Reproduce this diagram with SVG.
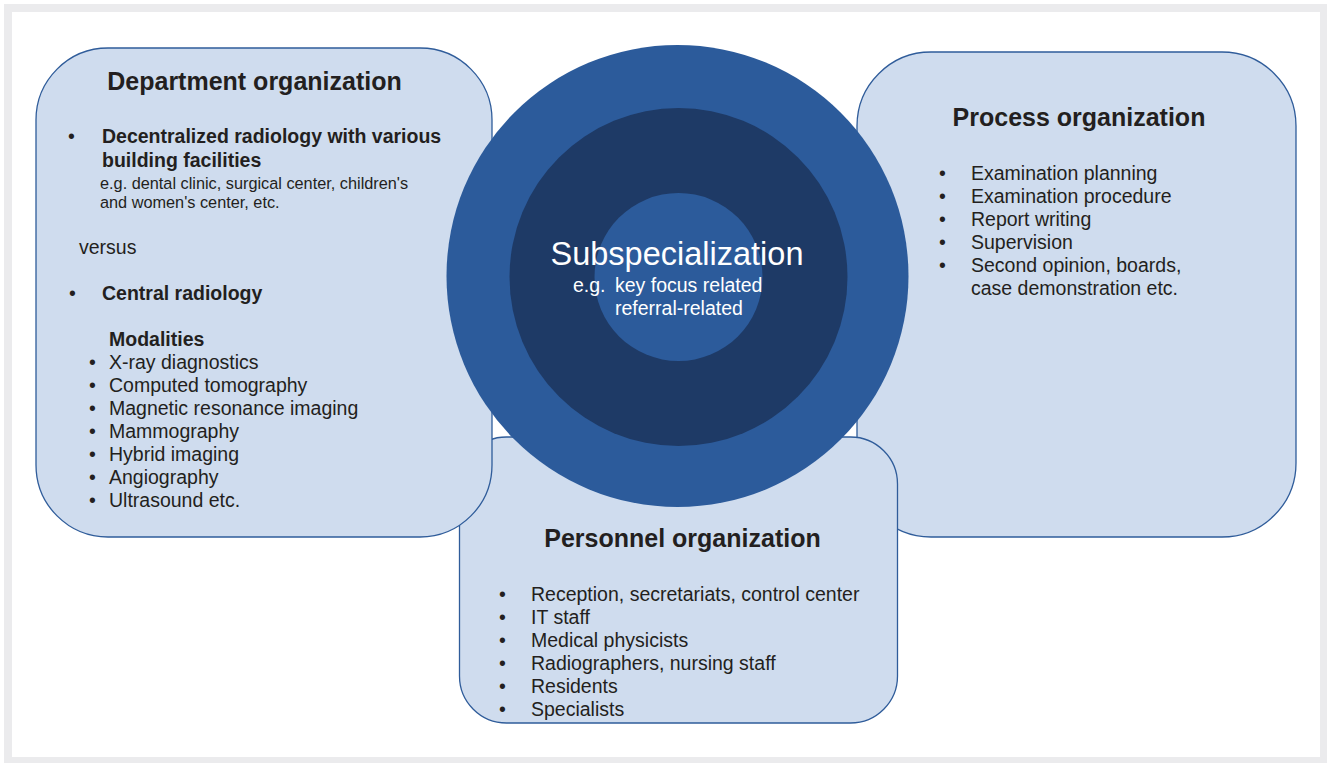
<svg xmlns="http://www.w3.org/2000/svg" width="1330" height="763" viewBox="0 0 1330 763">
<style>
.box{fill:#cfdcee;stroke:#2f5c9a;stroke-width:1.3}
.t{font-family:"Liberation Sans",Arial,sans-serif;fill:#231f20}
.h{font-size:25px;font-weight:bold}
.b{font-size:19.5px}
.bb{font-size:19.5px;font-weight:bold}
.s{font-size:16.3px}
.w{font-family:"Liberation Sans",Arial,sans-serif;fill:#ffffff}
</style>
<rect x="0" y="0" width="1330" height="763" fill="#ffffff"/>
<rect x="4" y="4" width="1323" height="759" fill="#ebebed"/>
<rect x="12" y="12" width="1308" height="745" fill="#ffffff"/>
<g id="connectors"></g>
<g id="node-process">
<rect class="box" x="857" y="52" width="439" height="485" rx="74" ry="74"/>
<text class="t h" x="1079" y="126" text-anchor="middle">Process organization</text>
<g class="t b">
<text x="939" y="180">•</text><text x="971" y="180">Examination planning</text>
<text x="939" y="203">•</text><text x="971" y="203">Examination procedure</text>
<text x="939" y="226">•</text><text x="971" y="226">Report writing</text>
<text x="939" y="249">•</text><text x="971" y="249">Supervision</text>
<text x="939" y="272">•</text><text x="971" y="272">Second opinion, boards,</text>
<text x="971" y="295">case demonstration etc.</text>
</g>
</g>
<g id="node-personnel">
<rect class="box" x="459.5" y="437" width="438" height="286" rx="47" ry="47"/>
<text class="t h" x="682.5" y="547" text-anchor="middle">Personnel organization</text>
<g class="t b">
<text x="499" y="601">•</text><text x="531" y="601">Reception, secretariats, control center</text>
<text x="499" y="624">•</text><text x="531" y="624">IT staff</text>
<text x="499" y="647">•</text><text x="531" y="647">Medical physicists</text>
<text x="499" y="670">•</text><text x="531" y="670">Radiographers, nursing staff</text>
<text x="499" y="693">•</text><text x="531" y="693">Residents</text>
<text x="499" y="716">•</text><text x="531" y="716">Specialists</text>
</g>
</g>
<g id="node-department">
<rect class="box" x="36" y="48" width="456" height="489" rx="72" ry="72"/>
<text class="t h" x="254.5" y="90" text-anchor="middle">Department organization</text>
<text class="t b" x="68" y="143">•</text>
<text class="t bb" x="102" y="143">Decentralized radiology with various</text>
<text class="t bb" x="102" y="167">building facilities</text>
<text class="t s" x="100" y="189">e.g. dental clinic, surgical center, children's</text>
<text class="t s" x="100" y="207.5">and women's center, etc.</text>
<text class="t b" x="79" y="254">versus</text>
<text class="t b" x="69" y="300">•</text>
<text class="t bb" x="102" y="300">Central radiology</text>
<text class="t bb" x="109" y="346">Modalities</text>
<g class="t b">
<text x="89" y="369">•</text><text x="109" y="369">X-ray diagnostics</text>
<text x="89" y="392">•</text><text x="109" y="392">Computed tomography</text>
<text x="89" y="415">•</text><text x="109" y="415">Magnetic resonance imaging</text>
<text x="89" y="438">•</text><text x="109" y="438">Mammography</text>
<text x="89" y="461">•</text><text x="109" y="461">Hybrid imaging</text>
<text x="89" y="484">•</text><text x="109" y="484">Angiography</text>
<text x="89" y="507">•</text><text x="109" y="507">Ultrasound etc.</text>
</g>
</g>
<g id="node-subspecialization">
<circle cx="677.5" cy="276" r="231" fill="#2c5b9b"/>
<circle cx="678.5" cy="277" r="169" fill="#1e3a66"/>
<circle cx="678.5" cy="277" r="84" fill="#2c5b9b"/>
<text class="w" x="677" y="265" font-size="32.5" text-anchor="middle">Subspecialization</text>
<text class="w" x="573" y="292" font-size="19.5">e.g.</text>
<text class="w" x="615" y="292" font-size="19.5">key focus related</text>
<text class="w" x="615" y="315" font-size="19.5">referral-related</text>
</g>
</svg>
